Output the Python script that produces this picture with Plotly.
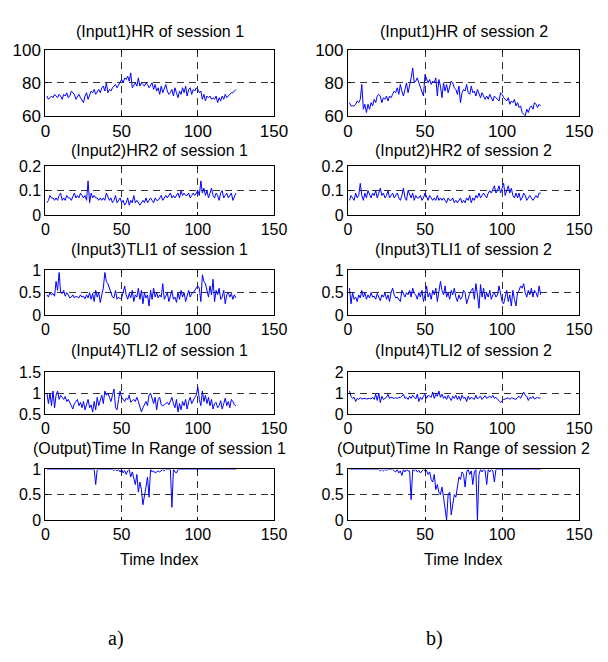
import plotly.graph_objects as go

# ---------------- data ----------------
hr_s1 = [72, 70, 71, 72, 71, 73, 72, 71, 73, 72,
         70, 73, 72, 74, 71, 72, 75, 74, 73, 70,
         72, 73, 71, 69, 68, 72, 74, 70, 73, 75,
         74, 76, 73, 75, 76, 74, 77, 78, 75, 80,
         74, 76, 75, 77, 78, 79, 77, 79, 81, 82,
         80, 83, 82, 84, 81, 86, 77, 79, 80, 78,
         83, 78, 80, 79, 78, 80, 79, 77, 79, 80,
         76, 79, 75, 77, 73, 78, 74, 76, 79, 75,
         73, 74, 76, 72, 77, 74, 71, 75, 73, 77,
         74, 78, 72, 76, 77, 73, 76, 75, 77, 76,
         74, 75, 70, 73, 69, 72, 71, 72, 70, 71,
         70, 72, 68, 71, 69, 72, 70, 73, 71, 72,
         73, 74, 74, 75, 76]
hr_s2 = [68, 66, 66, 66, 67, 69, 68, 70, 79, 64,
         67, 62, 67, 64, 68, 66, 70, 68, 72, 73,
         72, 68, 71, 70, 72, 69, 72, 71, 73, 75,
         74, 77, 73, 79, 75, 72, 76, 80, 74, 78,
         83, 89, 80, 81, 83, 80, 77, 75, 72, 85,
         83, 80, 82, 79, 81, 80, 83, 72, 82, 78,
         71, 80, 75, 79, 74, 78, 81, 80, 77, 76,
         73, 78, 68, 74, 76, 75, 79, 74, 73, 78,
         74, 75, 72, 76, 73, 71, 74, 72, 70, 72,
         70, 73, 71, 69, 72, 71, 70, 69, 74, 73,
         71, 70, 69, 71, 67, 69, 68, 70, 66, 68,
         65, 66, 62, 61, 60, 64, 62, 65, 66, 64,
         68, 67, 65, 67, 66]
hr2_s1 = [.05, .06, .08, .07, .07, .06, .07, .06, .08, .09,
          .06, .07, .06, .08, .07, .07, .06, .08, .09, .07,
          .08, .07, .09, .08, .07, .08, .06, .14, .05, .09,
          .07, .08, .07, .07, .06, .07, .06, .07, .06, .09,
          .07, .06, .07, .05, .06, .08, .05, .06, .07, .05,
          .06, .04, .05, .07, .04, .06, .05, .08, .05, .06,
          .05, .04, .05, .06, .05, .07, .05, .06, .07, .06,
          .05, .07, .06, .06, .07, .08, .06, .07, .08, .07,
          .08, .09, .07, .08, .07, .08, .09, .07, .10, .08,
          .09, .08, .08, .09, .07, .08, .09, .08, .09, .10,
          .08, .14, .09, .11, .08, .10, .07, .09, .11, .08,
          .07, .09, .08, .06, .09, .10, .07, .08, .09, .07,
          .08, .09, .06, .08, .09]
hr2_s2 = [.06, .08, .07, .06, .09, .07, .08, .13, .08, .06,
          .09, .07, .10, .08, .07, .09, .08, .10, .07, .09,
          .11, .08, .09, .07, .08, .10, .07, .08, .09, .07,
          .08, .09, .07, .06, .08, .11, .07, .06, .10, .08,
          .07, .09, .06, .08, .07, .07, .08, .06, .07, .09,
          .07, .06, .08, .07, .06, .07, .06, .08, .06, .07,
          .06, .07, .06, .05, .07, .06, .06, .07, .05, .06,
          .05, .06, .07, .05, .06, .05, .07, .06, .08, .05,
          .07, .06, .08, .07, .09, .07, .08, .09, .08, .07,
          .09, .10, .09, .11, .12, .09, .10, .12, .09, .11,
          .13, .08, .10, .12, .09, .11, .08, .07, .09, .07,
          .09, .06, .07, .09, .08, .06, .07, .08, .07, .06,
          .07, .08, .07, .09, .09]
tli1_s1 = [.45, .40, .50, .45, .48, .42, .75, .55, .95, .50,
           .48, .55, .42, .50, .45, .38, .40, .45, .38, .42,
           .40, .38, .45, .40, .42, .36, .45, .38, .50, .35,
           .48, .30, .55, .40, .50, .28, .45, .60, .95, .75,
           .70, .60, .45, .40, .38, .55, .35, .40, .36, .38,
           .50, .65, .45, .35, .48, .38, .55, .30, .45, .40,
           .60, .35, .55, .25, .50, .38, .45, .20, .55, .35,
           .60, .40, .50, .38, .45, .40, .70, .35, .42, .50,
           .30, .45, .55, .35, .40, .28, .50, .35, .55, .40,
           .50, .30, .45, .55, .40, .48, .50, .55, .60, .65,
           .60, .30, .90, .75, .70, .55, .40, .65, .45, .80,
           .30, .55, .45, .60, .35, .40, .55, .25, .45, .50,
           .40, .48, .35, .45, .38]
tli1_s2 = [.60, .25, .50, .35, .40, .30, .45, .38, .55, .40,
           .50, .35, .45, .38, .50, .40, .42, .35, .48, .40,
           .32, .45, .40, .50, .35, .45, .30, .50, .60, .45,
           .38, .40, .35, .30, .55, .48, .40, .50, .45, .55,
           .40, .60, .48, .45, .35, .50, .40, .55, .30, .45,
           .65, .40, .50, .35, .55, .45, .60, .30, .50, .75,
           .55, .45, .65, .40, .50, .35, .55, .45, .60, .40,
           .30, .45, .35, .40, .55, .50, .25, .40, .48, .55,
           .60, .35, .70, .45, .15, .68, .40, .60, .35, .50,
           .40, .55, .35, .45, .50, .40, .45, .65, .50, .30,
           .25, .40, .55, .30, .45, .20, .55, .35, .20, .50,
           .55, .65, .60, .70, .50, .40, .55, .45, .60, .40,
           .55, .50, .40, .65, .45]
tli2_s1 = [1.00, 0.75, 1.00, 0.70, 1.05, 0.65, 0.95, 1.05, 0.85, 0.95,
           0.90, 0.85, 0.92, 0.80, 0.85, 0.75, 0.70, 0.62, 0.75, 0.80,
           0.85, 0.70, 0.78, 0.65, 0.80, 0.60, 0.75, 0.85, 0.65, 0.72,
           0.55, 0.80, 0.60, 0.90, 0.70, 0.85, 0.95, 0.75, 1.05, 0.95,
           1.00, 0.90, 0.80, 0.95, 1.10, 0.65, 0.60, 0.85, 1.05, 0.90,
           0.85, 0.80, 0.88, 0.85, 0.95, 0.78, 0.82, 0.85, 0.80, 0.90,
           0.80, 0.70, 0.55, 0.65, 0.75, 0.80, 0.70, 0.95, 1.00, 0.85,
           0.75, 0.90, 0.60, 0.85, 0.90, 0.72, 0.70, 0.72, 0.75, 0.78,
           0.72, 0.80, 0.90, 0.75, 0.65, 0.85, 0.55, 0.75, 0.60, 0.80,
           0.70, 0.85, 0.62, 0.80, 0.90, 0.75, 0.85, 0.90, 0.95, 1.15,
           0.85, 0.70, 1.05, 0.80, 0.95, 0.75, 0.90, 0.70, 0.85, 0.62,
           0.75, 0.78, 0.65, 0.70, 0.82, 0.62, 0.75, 0.88, 0.70, 0.80,
           0.65, 0.85, 0.80, 0.72, 0.70]
tli2_s2 = [1.10, 0.85, 0.75, 0.80, 0.60, 0.75, 0.70, 0.78, 0.72, 0.75,
           0.75, 0.72, 0.75, 0.75, 0.72, 0.80, 0.70, 0.95, 0.65, 1.00,
           0.55, 0.85, 0.70, 0.75, 0.80, 0.95, 0.75, 0.80, 0.78, 0.75,
           0.78, 0.75, 0.80, 0.78, 0.85, 0.95, 0.75, 0.80, 0.70, 0.85,
           0.75, 0.90, 0.80, 0.72, 0.95, 0.60, 0.80, 0.70, 0.85, 0.95,
           0.75, 0.90, 0.85, 0.80, 1.05, 0.75, 0.95, 0.85, 1.10, 0.80,
           0.95, 0.75, 0.85, 0.70, 0.90, 0.80, 0.65, 0.85, 0.75, 0.90,
           0.70, 0.85, 0.65, 0.90, 0.75, 0.80, 0.60, 0.85, 0.70, 0.80,
           0.75, 0.70, 0.90, 0.72, 0.80, 0.85, 0.70, 0.80, 0.88, 0.75,
           0.80, 0.85, 0.78, 0.90, 0.75, 0.80, 0.70, 0.65, 0.55, 0.65,
           0.70, 0.72, 0.75, 0.78, 0.70, 0.78, 0.75, 0.72, 0.70, 0.80,
           0.85, 0.75, 0.95, 1.05, 0.90, 0.85, 0.65, 0.80, 0.75, 0.85,
           0.72, 0.75, 0.80, 0.75, 0.78]
tir_s1 = [1, 1, 1, 1, 1, 1, 1, 1, 1, 1,
          1, 1, 1, 1, 1, 1, 1, 1, 1, 1,
          1, 1, 1, 1, 1, 1, 1, 1, 1, 1,
          1, 1, 0.7, 1, 1, 1, 1, 1, 1, 1,
          1, 1, 1, 1, 0.98, 1, 0.97, 1, 0.95, 1,
          0.93, 0.98, 0.9, 0.97, 1, 0.85, 0.95, 0.8, 0.7, 0.9,
          0.55, 0.75, 0.6, 0.3, 0.45, 0.65, 0.85, 0.45, 1, 0.95,
          0.97, 0.93, 0.95, 0.97, 0.95, 0.98, 1, 0.97, 1, 1,
          1, 1, 0.25, 1, 0.95, 0.93, 1, 1, 1, 1,
          1, 1, 1, 1, 1, 1, 1, 1, 1, 1,
          1, 1, 1, 1, 1, 1, 1, 1, 1, 1,
          1, 1, 1, 1, 1, 1, 1, 1, 1, 1,
          1, 1, 1, 1, 1]
tir_s2 = [1, 1, 1, 1, 1, 1, 1, 1, 1, 1,
          1, 1, 1, 1, 1, 1, 1, 1, 1, 1,
          0.97, 1, 0.97, 1, 0.98, 1, 1, 1, 1, 0.97,
          0.95, 1, 0.93, 0.97, 0.88, 1, 0.95, 1, 0.97, 0.97,
          0.4, 1, 0.97, 1, 0.95, 0.98, 0.93, 0.97, 1, 0.97,
          0.98, 0.9, 0.95, 0.8, 0.75, 0.9, 0.6, 0.7, 0.55, 0.5,
          0.65, 0.45, 0.2, 0.0, 0.5, 0.55, 0.1, 0.35, 0.5, 0.45,
          0.7, 0.85, 0.8, 0.95, 0.9, 0.65, 0.95, 1, 0.9, 0.97,
          0.7, 0.95, 1, 0.0, 0.9, 1, 0.95, 1, 0.98, 0.7,
          1, 0.95, 1, 0.97, 0.75, 1, 1, 1, 1, 1,
          1, 1, 1, 1, 1, 1, 1, 1, 1, 1,
          1, 1, 1, 1, 1, 1, 1, 1, 1, 1,
          1, 1, 1, 1, 1]

titles_s1 = ["(Input1)HR of session 1", "(Input2)HR2 of session 1", "(Input3)TLI1 of session 1",
             "(Input4)TLI2 of session 1", "(Output)Time In Range of session 1"]
titles_s2 = ["(Input1)HR of session 2", "(Input2)HR2 of session 2", "(Input3)TLI1 of session 2",
             "(Input4)TLI2 of session 2", "(Output)Time In Range of session 2"]
series_s1 = [hr_s1, hr2_s1, tli1_s1, tli2_s1, tir_s1]
series_s2 = [hr_s2, hr2_s2, tli1_s2, tli2_s2, tir_s2]

x_ticks = [0, 50, 100, 150]
x_ticktext = ["0", "50", "100", "150"]
y_ticks_s1 = [[60, 80, 100], [0, 0.1, 0.2], [0, 0.5, 1], [0.5, 1, 1.5], [0, 0.5, 1]]
y_ticktext_s1 = [["60", "80", "100"], ["0", "0.1", "0.2"], ["0", "0.5", "1"], ["0.5", "1", "1.5"], ["0", "0.5", "1"]]
y_ticks_s2 = [[60, 80, 100], [0, 0.1, 0.2], [0, 0.5, 1], [0, 1, 2], [0, 0.5, 1]]
y_ticktext_s2 = [["60", "80", "100"], ["0", "0.1", "0.2"], ["0", "0.5", "1"], ["0", "1", "2"], ["0", "0.5", "1"]]
x_label = "Time Index"
panel_labels = ["a)", "b)"]

# ---------------- layout geometry ----------------
W, H = 608, 662
col_px = [(41.7, 277.7), (354.0, 592.7)]
row_px = [(42, 110), (162, 212), (269, 315), (374, 417), (474, 526)]
title_px = [23, 146, 248, 352, 453]
tick_sizes = [17, 16, 16, 16, 16]

def py(p):
    return 1 - p / H

fig = go.Figure()
font_family = "Liberation Sans, Arial, sans-serif"
grid_col = "#333333"

ai = 0
annotations = []
for c, (series, titles, yt, ytt) in enumerate([(series_s1, titles_s1, y_ticks_s1, y_ticktext_s1),
                                                (series_s2, titles_s2, y_ticks_s2, y_ticktext_s2)]):
    x0, x1 = col_px[c]
    for r in range(5):
        ai += 1
        xa = "x" if ai == 1 else f"x{ai}"
        ya = "y" if ai == 1 else f"y{ai}"
        vals = series[r]
        fig.add_trace(go.Scatter(x=list(range(1, len(vals) + 1)), y=vals, mode="lines",
                                 line=dict(color="#0000FF", width=1), xaxis=xa, yaxis=ya,
                                 showlegend=False, hoverinfo="skip"))
        tf = tick_sizes[r]
        axcommon = dict(showline=True, mirror="ticks", linecolor="black", linewidth=1,
                        ticks="inside", ticklen=3, tickcolor="black",
                        showgrid=True, gridcolor=grid_col, griddash="7px,5px", gridwidth=1,
                        zeroline=False, tickfont=dict(family=font_family, size=tf, color="black"))
        fig.layout[("xaxis" if ai == 1 else f"xaxis{ai}")] = dict(
            domain=[x0 / W, x1 / W], range=[0, 150], tickvals=x_ticks, ticktext=x_ticktext,
            anchor=ya, **axcommon)
        fig.layout[("yaxis" if ai == 1 else f"yaxis{ai}")] = dict(
            domain=[py(row_px[r][1]), py(row_px[r][0])], range=[yt[r][0], yt[r][-1]],
            tickvals=yt[r], ticktext=ytt[r], anchor=xa, **axcommon)
        annotations.append(dict(text=titles[r], x=(x0 + x1) / 2 / W, y=py(title_px[r]),
                                xref="paper", yref="paper", xanchor="center", yanchor="middle",
                                showarrow=False, font=dict(family=font_family, size=16, color="black")))
    annotations.append(dict(text=x_label, x=(x0 + x1) / 2 / W, y=py(567), xref="paper", yref="paper",
                            xanchor="center", yanchor="middle", showarrow=False,
                            font=dict(family=font_family, size=16, color="black")))
    annotations.append(dict(text=panel_labels[c], x=(115 if c == 0 else 443) / W, y=py(648),
                            xref="paper", yref="paper", xanchor="center", yanchor="middle",
                            showarrow=False,
                            font=dict(family="Liberation Serif, Times New Roman, serif", size=20, color="black")))

fig.update_layout(width=W, height=H, margin=dict(l=0, r=0, t=0, b=0),
                  paper_bgcolor="white", plot_bgcolor="white", annotations=annotations)
fig.write_html("out.html")
